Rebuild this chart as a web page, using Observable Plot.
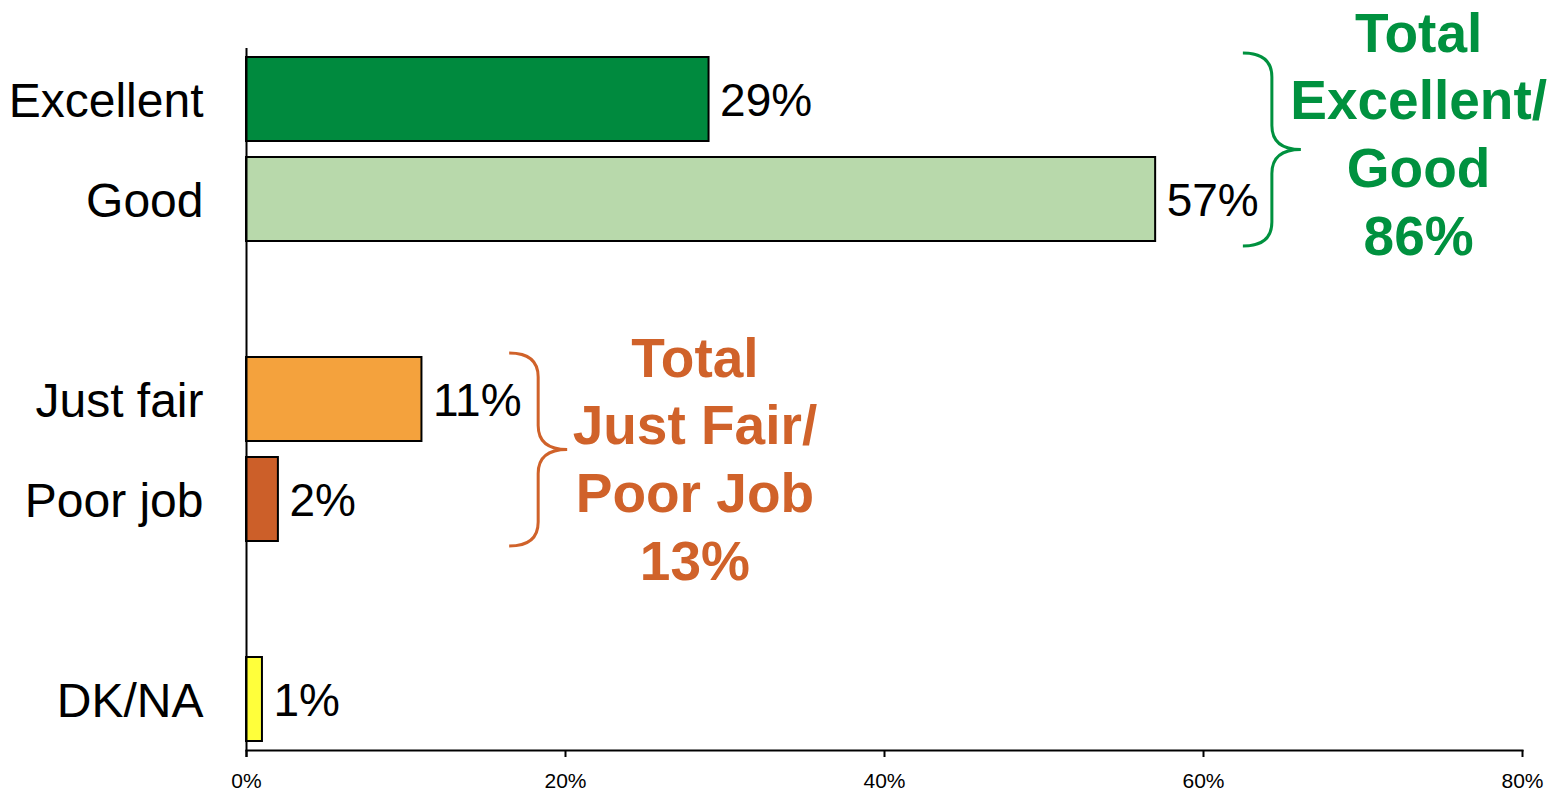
<!DOCTYPE html>
<html><head><meta charset="utf-8">
<script src="https://cdn.jsdelivr.net/npm/d3@7"></script>
<script src="https://cdn.jsdelivr.net/npm/@observablehq/plot@0.6"></script>
<style>body{margin:0;background:#fff;}</style>
</head><body><div id="chart"></div>
<script>
// ---- data ----
const categories = ["Excellent", "Good", "Just fair", "Poor job", "DK/NA"];
const values = [29, 57, 11, 2, 1];
const bandOrder = ["Excellent", "Good", "gap1", "Just fair", "Poor job", "gap2", "DK/NA"];
const xTicks = [0, 20, 40, 60, 80];
const groupTitles = ["Total\nExcellent/\nGood", "Total\nJust Fair/\nPoor Job"];
const groupTotals = [86, 13];
const groupMembers = [["Excellent", "Good"], ["Just fair", "Poor job"]];

// ---- styles ----
const barColors = ["#008A3E", "#B8D9AB", "#F4A23D", "#CC5F29", "#FFFF3B"];
const groupColors = ["#00913F", "#D0622A"];
const groupDy = [32, 57];
const groupDx = [-5, 5];

const rows = categories.map((c, i) => ({category: c, value: values[i]}));
const groups = groupTitles.map((t, i) => {
  const maxV = d3.max(groupMembers[i], m => values[categories.indexOf(m)]);
  return {
    label: t + "\n" + groupTotals[i] + "%",
    members: groupMembers[i],
    x0: maxV + 5.5,
    xText: maxV + 5.5 + 11.3,
    color: groupColors[i],
    dy: groupDy[i],
    dx: groupDx[i]
  };
});

const braceMark = (index, scales, vals, dims, context) => {
  const g = d3.create("svg:g").attr("fill", "none").attr("stroke-width", 3);
  const ys = scales.y;
  const bw = ys.bandwidth ? ys.bandwidth() : 84;
  groups.forEach(gr => {
    const x0 = scales.x(gr.x0);
    const yTop = ys(gr.members[0]) - 4;
    const yBot = ys(gr.members[gr.members.length - 1]) + bw + 5;
    const ym = (yTop + yBot) / 2;
    const xm = x0 + 29, xp = x0 + 58, r = 24;
    const p = `M${x0},${yTop} Q${xm},${yTop} ${xm},${yTop + r} L${xm},${ym - r} Q${xm},${ym} ${xp},${ym} Q${xm},${ym} ${xm},${ym + r} L${xm},${yBot - r} Q${xm},${yBot} ${x0},${yBot}`;
    g.append("path").attr("d", p).attr("stroke", gr.color);
  });
  return g.node();
};

const chart = Plot.plot({
  width: 1563,
  height: 793,
  marginLeft: 246,
  marginRight: 41,
  marginTop: 48,
  marginBottom: 43,
  style: {fontFamily: "'Liberation Sans', Arial, sans-serif", color: "black", background: "white", overflow: "visible"},
  x: {domain: [0, 80]},
  y: {domain: bandOrder, paddingInner: 0.163, paddingOuter: 0.085},
  color: {domain: categories, range: barColors},
  marks: [
    Plot.barX(rows, {x: "value", y: "category", fill: "category", stroke: "black", strokeWidth: 2}),
    Plot.text(rows, {x: "value", y: "category", text: d => d.value + "%", textAnchor: "start", dx: 11, dy: 2, fontSize: 46, fill: "black"}),
    Plot.frame({anchor: "bottom", strokeWidth: 2}),
    Plot.ruleX([0], {strokeWidth: 2, insetBottom: -7}),
    Plot.axisX({ticks: xTicks, tickFormat: d => d + "%", tickSize: 7, tickPadding: 16, fontSize: 21, strokeWidth: 2, label: null}),
    Plot.axisY({ticks: categories, tickSize: 0, tickPadding: 43, fontSize: 48, dy: 2, label: null}),
    braceMark,
    ...groups.map(gr => Plot.text([gr], {x: "xText", y: d => d.members[0], text: "label", fontSize: 55, fontWeight: "bold", fill: gr.color, lineHeight: 1.23, dy: gr.dy, dx: gr.dx}))
  ]
});
document.getElementById("chart").appendChild(chart);
</script>
</body></html>
